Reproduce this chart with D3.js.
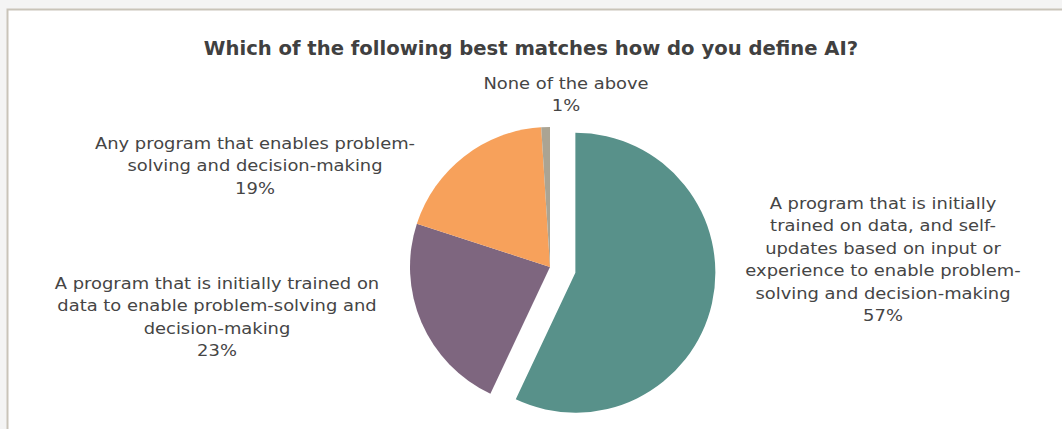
<!DOCTYPE html>
<html><head><meta charset="utf-8">
<script src="https://cdn.jsdelivr.net/npm/d3@7"></script>
<style>
html,body{margin:0;padding:0;background:#f4f4f4;}
svg{display:block;}
</style></head>
<body>
<svg id="chart" width="1062" height="429"></svg>
<script>
const title = "Which of the following best matches how do you define AI?";
const categories = [
  "A program that is initially trained on data, and self-updates based on input or experience to enable problem-solving and decision-making",
  "A program that is initially trained on data to enable problem-solving and decision-making",
  "Any program that enables problem-solving and decision-making",
  "None of the above"
];
const values = [57, 23, 19, 1];
const labelLines = [
  ["A program that is initially", "trained on data, and self-", "updates based on input or", "experience to enable problem-", "solving and decision-making"],
  ["A program that is initially trained on", "data to enable problem-solving and", "decision-making"],
  ["Any program that enables problem-", "solving and decision-making"],
  ["None of the above"]
];
const colors = ["#58918a", "#7e667f", "#f7a15b", "#aba493"];

// layout
const W = 1062, H = 429;
const cx = 550, cy = 267, R = 140, explode = [26, 0, 0, 0];
const labelPos = [[883, 203], [217, 283], [255, 143], [566, 83]];
const lineH = 22.5;
const sx = 1.085;

const svg = d3.select("#chart");
svg.append("rect").attr("x", 7.5).attr("y", 9.5).attr("width", W).attr("height", H)
  .attr("fill", "#ffffff").attr("stroke", "#c9c4b9").attr("stroke-width", 2);

svg.append("text").attr("x", 531).attr("y", 55).attr("text-anchor", "middle")
  .attr("font-family", "'DejaVu Sans', sans-serif").attr("font-weight", "bold")
  .attr("font-size", 19.6).attr("fill", "#404040").text(title);

const pie = d3.pie().sort(null).value(d => d)(values);
const arc = d3.arc().innerRadius(0).outerRadius(R);
const g = svg.append("g").attr("transform", `translate(${cx},${cy})`);
g.selectAll("path").data(pie).join("path")
  .attr("d", arc)
  .attr("fill", (d, i) => colors[i])
  .attr("transform", (d, i) => {
    const a = (d.startAngle + d.endAngle) / 2;
    return `translate(${Math.sin(a) * explode[i]},${-Math.cos(a) * explode[i]})`;
  });

const total = d3.sum(values);
labelLines.forEach((lines, i) => {
  const x0 = labelPos[i][0];
  const t = svg.append("g").attr("transform", `translate(${x0},0) scale(${sx},1)`)
    .append("text").attr("text-anchor", "middle")
    .attr("font-family", "'DejaVu Sans', sans-serif").attr("font-size", 16.5)
    .attr("fill", "#454545");
  const all = lines.concat([Math.round(values[i] / total * 100) + "%"]);
  all.forEach((s, k) => {
    t.append("tspan").attr("x", 0).attr("y", labelPos[i][1] + k * lineH + 6).text(s);
  });
});
</script>
</body></html>
